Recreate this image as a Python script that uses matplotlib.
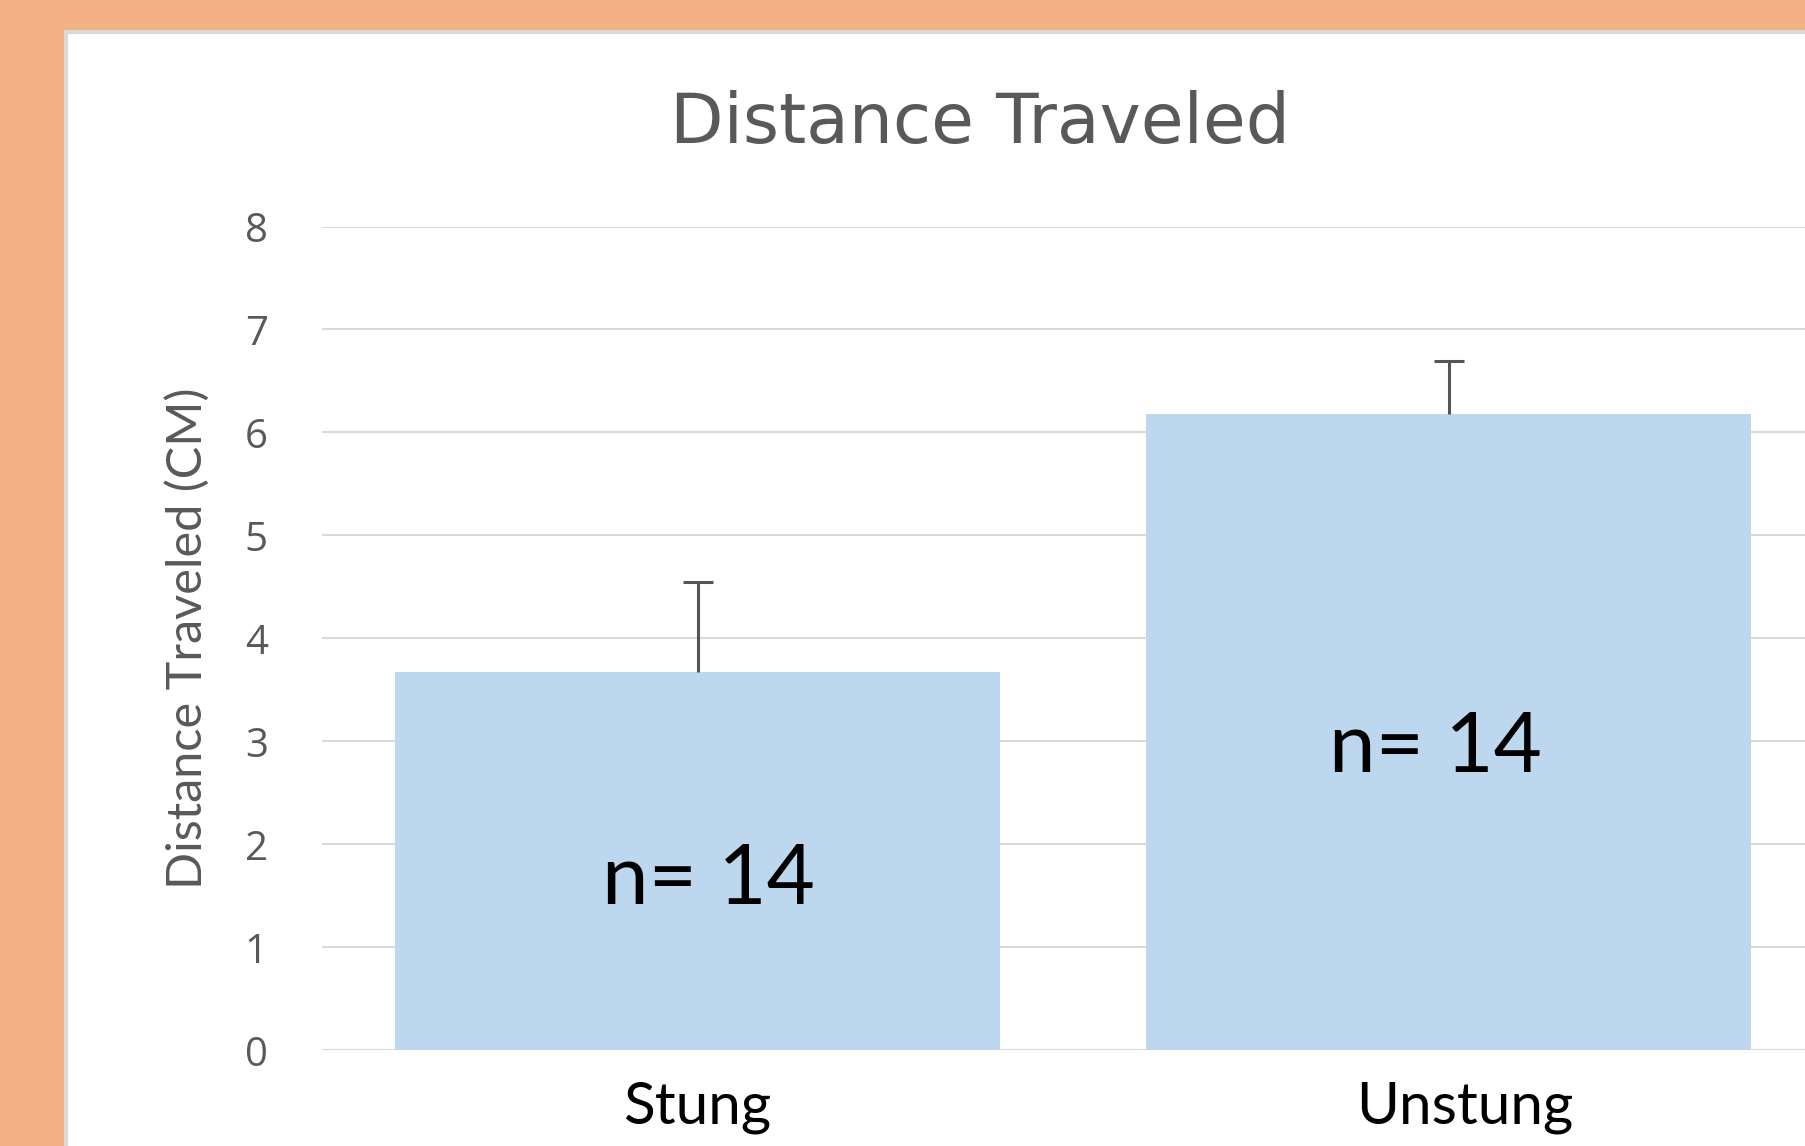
import matplotlib
matplotlib.use("Agg")
import matplotlib.pyplot as plt
from matplotlib.patches import Rectangle
from matplotlib.transforms import ScaledTranslation

categories = ["Stung", "Unstung"]
values = [3.67, 6.18]
errors_up = [0.88, 0.51]
n_labels = ["n= 14", "n= 14"]
n_label_y = [1.42, 2.70]
n_label_x = [0.014, 0.983]
yticks = [0, 1, 2, 3, 4, 5, 6, 7, 8]

W, H = 1806, 1146
fig = plt.figure(figsize=(W / 100, H / 100), dpi=100)
fig.patch.set_facecolor("#F4B183")

# white chart panel with light grey border
panel = Rectangle((66 / W, -0.1), 2.0, (H - 32) / H + 0.1, transform=fig.transFigure,
                  facecolor="white", edgecolor="#D9D9D9", linewidth=3, zorder=-10)
fig.patches.append(panel)

ax_left, ax_right = 322, W
ax_bottom, ax_top = 1050.4, 226.5
ax = fig.add_axes([ax_left / W, (H - ax_bottom) / H, (ax_right - ax_left) / W,
                   (ax_bottom - ax_top) / H])
ax.set_facecolor("none")
ax.set_zorder(1)

x = list(range(len(categories)))
ax.bar(x, values, width=0.806, color="#BDD7EE", zorder=3)
# upper-only error bars (no cap at the bar end)
ax.errorbar(x, values, yerr=[[0, 0], errors_up], fmt="none", ecolor="#555555",
            elinewidth=2.2, capsize=0, zorder=4)
tops = [v + e for v, e in zip(values, errors_up)]
ax.plot(x, tops, linestyle="none", marker="_", markersize=22, markeredgewidth=2.2,
        color="#555555", zorder=4)

ax.set_ylim(0, 8)
ax.set_xlim(-0.5, (ax_right - ax_left) / 751.0 - 0.5)
ax.set_yticks(yticks)
ax.set_yticklabels([str(t) for t in yticks])
ax.set_xticks(x)
ax.set_xticklabels(categories)

ax.grid(axis="y", color="#D9D9D9", linewidth=1.5, zorder=0)
ax.set_axisbelow(True)
for s in ax.spines.values():
    s.set_visible(False)

ax.tick_params(axis="y", length=0, pad=39, labelsize=29, labelcolor="#595959")
ax.tick_params(axis="x", length=0, pad=22, labelsize=42, labelcolor="black")
for lab in ax.get_yticklabels():
    lab.set_fontfamily("Open Sans")
for lab in ax.get_xticklabels():
    lab.set_fontfamily("Lato")

# the second category label sits slightly right of its bar centre in the reference
t2 = ax.xaxis.get_major_ticks()[1].label1
t2.set_transform(t2.get_transform() + ScaledTranslation(16 / 100, 0, fig.dpi_scale_trans))

ax.set_ylabel("Distance Traveled (CM)", fontfamily="Lato", fontsize=35,
              color="#595959", va="center")
ax.yaxis.set_label_coords((187 - ax_left) / (ax_right - ax_left), 0.5)

ax.text((980 - ax_left) / (ax_right - ax_left), (ax_bottom - 143) / (ax_bottom - ax_top),
        "Distance Traveled", transform=ax.transAxes, ha="center", va="baseline",
        fontfamily="DejaVu Sans", fontsize=50, color="#595959")

for xi, yi, t in zip(n_label_x, n_label_y, n_labels):
    ax.text(xi, yi, t, ha="center", va="baseline", fontfamily="Lato",
            fontsize=60, color="black", zorder=5)

fig.savefig("out.png", dpi=100, facecolor=fig.get_facecolor())
